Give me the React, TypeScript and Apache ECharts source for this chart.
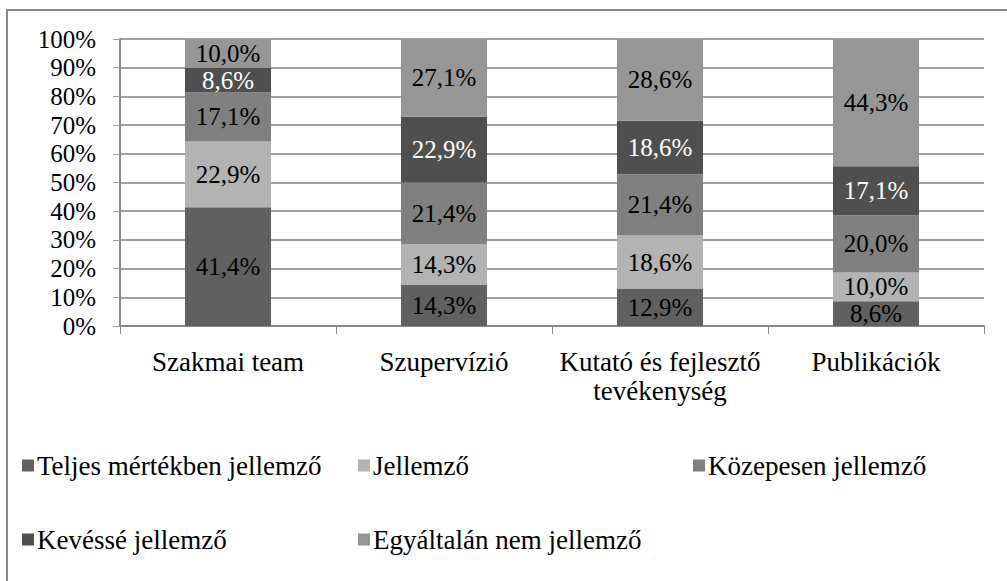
import React, { useEffect, useRef } from "react";
import * as echarts from "echarts";

const categories = ["Szakmai team", "Szupervízió", "Kutató és fejlesztő\ntevékenység", "Publikációk"];
const seriesNames = [
  "Teljes mértékben jellemző",
  "Jellemző",
  "Közepesen jellemző",
  "Kevéssé jellemző",
  "Egyáltalán nem jellemző",
];
const teljes = [41.4, 14.3, 12.9, 8.6];
const jellemzo = [22.9, 14.3, 18.6, 10.0];
const kozepesen = [17.1, 21.4, 21.4, 20.0];
const kevesse = [8.6, 22.9, 18.6, 17.1];
const egyaltalan = [10.0, 27.1, 28.6, 44.3];
const yTicks = [0, 10, 20, 30, 40, 50, 60, 70, 80, 90, 100];

const colors = ["#606060", "#b3b3b3", "#808080", "#4f4f4f", "#969696"];
const labelColors = ["#000", "#000", "#000", "#fff", "#000"];
const FONT = "'Liberation Serif', 'Times New Roman', serif";

export default function App() {
  const ref = useRef<HTMLDivElement>(null);
  useEffect(() => {
    if (!ref.current) return;
    const chart = echarts.init(ref.current, undefined, { renderer: "svg" });
    const values = [teljes, jellemzo, kozepesen, kevesse, egyaltalan];
    const legendPos = [
      { left: 22, top: 452 },
      { left: 358, top: 452 },
      { left: 693, top: 452 },
      { left: 22, top: 526 },
      { left: 358, top: 526 },
    ];
    chart.setOption({
      animation: false,
      textStyle: { fontFamily: FONT },
      graphic: [
        {
          type: "rect",
          shape: { x: 7, y: 10, width: 1200, height: 800 },
          style: { fill: "none", stroke: "#8c8c8c", lineWidth: 2 },
          silent: true,
        },
      ],
      grid: { left: 120, right: 23, top: 39, bottom: 255, containLabel: false },
      legend: seriesNames.map((n, i) => ({
        data: [n],
        left: legendPos[i].left,
        top: legendPos[i].top,
        padding: 0,
        itemWidth: 12,
        itemHeight: 12,
        icon: "rect",
        textStyle: { fontFamily: FONT, fontSize: 27, color: "#000", padding: [0, 0, 0, -2] },
      })),
      xAxis: {
        type: "category",
        data: categories,
        axisLine: { lineStyle: { color: "#888", width: 2 } },
        axisTick: { show: true, length: 8, lineStyle: { color: "#888" } },
        axisLabel: {
          fontFamily: FONT,
          fontSize: 27,
          color: "#000",
          margin: 21,
          lineHeight: 29,
          interval: 0,
        },
      },
      yAxis: {
        type: "value",
        min: 0,
        max: 100,
        interval: 10,
        axisLine: { show: true, lineStyle: { color: "#888", width: 2 } },
        axisTick: { show: true, length: 7, lineStyle: { color: "#a0a0a0" } },
        splitLine: { lineStyle: { color: "#a0a0a0", width: 2 } },
        axisLabel: {
          fontFamily: FONT,
          fontSize: 25,
          color: "#000",
          margin: 24,
          formatter: (v: number) => (yTicks.includes(v) ? v + "%" : ""),
        },
      },
      series: seriesNames.map((n, i) => ({
        name: n,
        type: "bar",
        stack: "total",
        barWidth: 86,
        data: values[i],
        itemStyle: { color: colors[i] },
        label: {
          show: true,
          position: "inside",
          fontFamily: FONT,
          fontSize: 25,
          color: labelColors[i],
          formatter: (p: any) => p.value.toFixed(1).replace(".", ",") + "%",
        },
      })),
    });
    return () => chart.dispose();
  }, []);
  return <div ref={ref} style={{ position: "fixed", left: 0, top: 0, width: 1007, height: 581, background: "#fff" }} />;
}
